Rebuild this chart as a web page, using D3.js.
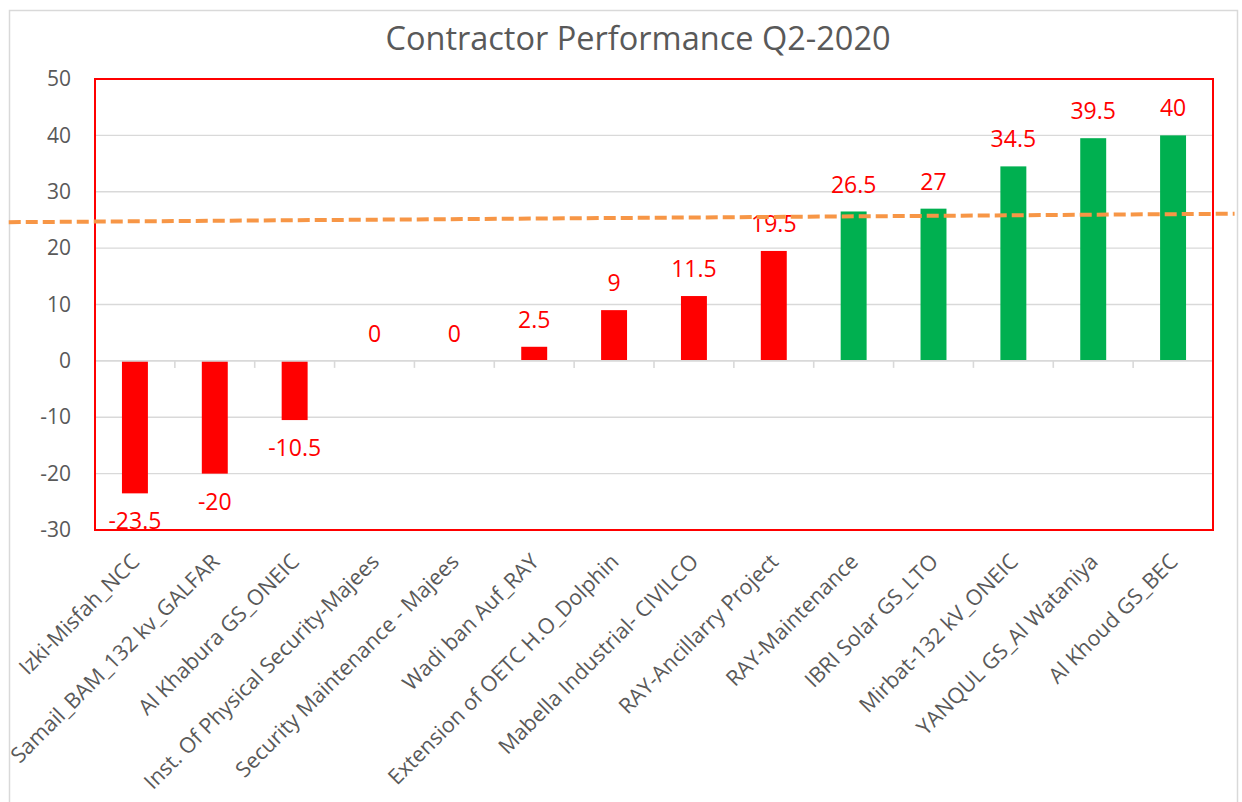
<!DOCTYPE html>
<html>
<head>
<meta charset="utf-8">
<script src="https://cdn.jsdelivr.net/npm/d3@7"></script>
<style>
  html, body { margin: 0; padding: 0; background: #fff; }
  svg { display: block; font-family: "Open Sans", "Noto Sans", sans-serif; }
</style>
</head>
<body>
<svg id="chart" width="1242" height="802"></svg>
<script>
// ---- data ----
const title = "Contractor Performance Q2-2020";
const categories = [
  "Izki-Misfah_NCC",
  "Samail_BAM_132 kv_GALFAR",
  "Al Khabura GS_ONEIC",
  "Inst. Of Physical Security-Majees",
  "Security Maintenance - Majees",
  "Wadi ban Auf_RAY",
  "Extension of OETC H.O_Dolphin",
  "Mabella Industrial- CIVILCO",
  "RAY-Ancillarry Project",
  "RAY-Maintenance",
  "IBRI Solar GS_LTO",
  "Mirbat-132 kV_ONEIC",
  "YANQUL GS_Al Wataniya",
  "Al Khoud GS_BEC"
];
const values = [-23.5, -20, -10.5, 0, 0, 2.5, 9, 11.5, 19.5, 26.5, 27, 34.5, 39.5, 40];
const barColors = ["#FF0000","#FF0000","#FF0000","#FF0000","#FF0000","#FF0000","#FF0000","#FF0000","#FF0000",
                   "#00B050","#00B050","#00B050","#00B050","#00B050"];
const yTicks = [-30, -20, -10, 0, 10, 20, 30, 40, 50];
// hand-drawn target line (position in category-index units, value)
const targetLine = [{pos: -1.58, value: 24.6}, {pos: 13.77, value: 26.1}];

// ---- layout ----
const W = 1242, H = 802;
const plot = {left: 95, right: 1213, top: 79, bottom: 530};
const svg = d3.select("#chart");

svg.append("rect").attr("width", W).attr("height", H).attr("fill", "#fff");
// outer chart border
svg.append("rect")
  .attr("x", 9.5).attr("y", 10.5).attr("width", 1228).attr("height", 820)
  .attr("fill", "none").attr("stroke", "#D9D9D9").attr("stroke-width", 1.5);

const x = d3.scaleBand().domain(categories).range([plot.left, plot.right])
  .paddingInner(0.675).paddingOuter(0.3375);
const y = d3.scaleLinear().domain([-30, 50]).range([plot.bottom, plot.top]);
const step = x.step();
const idx = d3.scaleLinear().domain([0, 1]).range([x(categories[0]) + x.bandwidth() / 2, x(categories[0]) + x.bandwidth() / 2 + step]);

// gridlines
svg.append("g").selectAll("line").data(yTicks.filter(d => d !== 0)).join("line")
  .attr("x1", plot.left).attr("x2", plot.right)
  .attr("y1", d => y(d)).attr("y2", d => y(d))
  .attr("stroke", "#D9D9D9").attr("stroke-width", 1.3);

// y tick labels
const yAxis = d3.axisLeft(y).tickValues(yTicks).tickSize(0).tickPadding(0).tickFormat(d => String(d));
const ya = svg.append("g").attr("transform", `translate(${plot.left - 24},0)`).call(yAxis);
ya.select(".domain").remove();
ya.selectAll("text").attr("fill", "#595959").style("font-size", "21px")
  .style("font-family", "'Open Sans', sans-serif");

// bars
svg.append("g").selectAll("rect").data(values).join("rect")
  .attr("x", (d, i) => x(categories[i]))
  .attr("width", x.bandwidth())
  .attr("y", d => y(Math.max(0, d)))
  .attr("height", d => Math.abs(y(d) - y(0)))
  .attr("fill", (d, i) => barColors[i]);

// zero axis line with category ticks
svg.append("line").attr("x1", plot.left).attr("x2", plot.right)
  .attr("y1", y(0)).attr("y2", y(0)).attr("stroke", "#D9D9D9").attr("stroke-width", 1.6);
const bounds = d3.range(categories.length + 1).map(i => plot.left + i * step);
svg.append("g").selectAll("line").data(bounds).join("line")
  .attr("x1", d => d).attr("x2", d => d)
  .attr("y1", y(0)).attr("y2", y(0) + 7)
  .attr("stroke", "#D9D9D9").attr("stroke-width", 1.6);

// plot border (red)
svg.append("rect")
  .attr("x", plot.left).attr("y", plot.top)
  .attr("width", plot.right - plot.left).attr("height", plot.bottom - plot.top)
  .attr("fill", "none").attr("stroke", "#FF0000").attr("stroke-width", 2);

// data labels
svg.append("g").selectAll("text").data(values).join("text")
  .attr("x", (d, i) => x(categories[i]) + x.bandwidth() / 2)
  .attr("y", d => d >= 0 ? y(d) - 27 : y(d) + 28)
  .attr("dy", "0.35em")
  .attr("text-anchor", "middle")
  .attr("fill", "#FF0000")
  .style("font-size", "23px")
  .text(d => String(d));

// category labels
svg.append("g").selectAll("text").data(categories).join("text")
  .attr("transform", d => `translate(${x(d) + x.bandwidth() / 2 + 6},${563}) rotate(-45)`)
  .attr("text-anchor", "end")
  .attr("fill", "#595959")
  .style("font-size", "21.5px")
  .text(d => d);

// target dashed line
svg.append("path").datum(targetLine)
  .attr("d", d3.line().x(d => idx(d.pos)).y(d => y(d.value)))
  .attr("fill", "none").attr("stroke", "#F79646")
  .attr("stroke-width", 4).attr("stroke-dasharray", "12,5");

// title
svg.append("text").attr("x", 638).attr("y", 50)
  .attr("text-anchor", "middle").attr("fill", "#595959")
  .style("font-size", "32.5px").text(title);
</script>
</body>
</html>
